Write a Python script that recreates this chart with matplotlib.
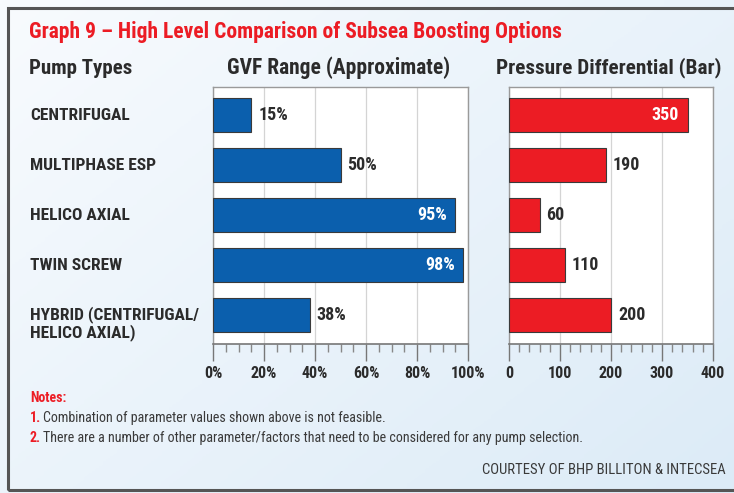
import numpy as np
import matplotlib
matplotlib.use("Agg")
import matplotlib.pyplot as plt
from matplotlib.patches import Rectangle
from matplotlib import transforms
from matplotlib.ticker import MultipleLocator, FuncFormatter

plt.rcParams['font.family'] = ['Roboto Condensed', 'DejaVu Sans']

pump_types = ["CENTRIFUGAL", "MULTIPHASE ESP", "HELICO AXIAL", "TWIN SCREW",
              "HYBRID (CENTRIFUGAL/\nHELICO AXIAL)"]
gvf = [15, 50, 95, 98, 38]
pressure = [350, 190, 60, 110, 200]
gvf_inside = [False, False, True, True, False]
pressure_inside = [True, False, False, False, False]

BLUE = "#0b5fad"
RED = "#ec1c24"
TXT = "#2b2b2b"

W, H = 734, 493
fig = plt.figure(figsize=(W / 100, H / 100), dpi=100)

# light blue gradient background
bg = fig.add_axes([0, 0, 1, 1], zorder=-10)
gx = np.linspace(0, 1, 200)
gy = np.linspace(0, 1, 200)
grad = 0.55 * gx[None, :] + 0.45 * gy[:, None]
cmap = matplotlib.colors.LinearSegmentedColormap.from_list("bgc", ["#f8fbfe", "#dcebf7"])
bg.imshow(grad, cmap=cmap, aspect="auto", extent=[0, 1, 0, 1], origin="upper")
bg.set_axis_off()
bg.set_xlim(0, 1)
bg.set_ylim(0, 1)
bg.add_patch(Rectangle((8 / W, 3 / H), 1.2, (490 - 8) / H, fill=False,
                       edgecolor="#555555", lw=2.2, transform=fig.transFigure))


def px(x, y):
    return x / W, 1 - y / H


def make_axes(left, right, top, bottom):
    return fig.add_axes([left / W, 1 - bottom / H, (right - left) / W, (bottom - top) / H])


ax1 = make_axes(213, 468, 87, 344)
ax2 = make_axes(509, 713, 87, 344)

ypos = np.arange(len(pump_types))


def style(ax, vals, inside, color, xmax, major, minor, fmt):
    ax.set_facecolor("white")
    ax.barh(ypos, vals, height=0.68, color=color, edgecolor="#3a3a3a", lw=0.8, zorder=3)
    ax.set_xlim(0, xmax)
    ax.set_ylim(4.58, -0.56)
    ax.set_yticks([])
    ax.xaxis.set_major_locator(MultipleLocator(major))
    ax.xaxis.set_minor_locator(MultipleLocator(minor))
    ax.xaxis.set_major_formatter(FuncFormatter(fmt))
    ax.tick_params(axis="x", which="major", length=12, width=1, color="#777777",
                   pad=3.5, labelsize=11.5, labelcolor=TXT)
    ax.tick_params(axis="x", which="minor", length=6, width=1, color="#888888")
    for lab in ax.get_xticklabels():
        lab.set_fontweight("bold")
    ax.grid(axis="x", which="major", color="#d4d4d4", lw=0.9, zorder=0)
    for s in ["top", "right", "left"]:
        ax.spines[s].set_color("#9a9a9a")
        ax.spines[s].set_linewidth(1.0)
    ax.spines["bottom"].set_color("#777777")
    ax.spines["bottom"].set_linewidth(1.2)
    for i, (v, ins) in enumerate(zip(vals, inside)):
        label = fmt(v, None)
        if ins:
            ax.annotate(label, (v, i), xytext=(-6, 0), textcoords="offset points",
                        ha="right", va="center", color="white", fontsize=13,
                        fontweight="bold", zorder=4)
        else:
            ax.annotate(label, (v, i), xytext=(5, 0), textcoords="offset points",
                        ha="left", va="center", color=TXT, fontsize=13,
                        fontweight="bold", zorder=4)


style(ax1, gvf, gvf_inside, BLUE, 100, 20, 5, lambda v, p: f"{v:.0f}%")
style(ax2, pressure, pressure_inside, RED, 400, 100, 20, lambda v, p: f"{v:.0f}")

# category labels
trans = transforms.blended_transform_factory(fig.transFigure, ax1.transData)
for i, name in enumerate(pump_types):
    dy = 0.17 if "\n" in name else 0
    fig.text(30 / W, i + dy, name, transform=trans, ha="left", va="center",
             fontsize=12.5, fontweight="bold", color=TXT, linespacing=1.1)

# title and headers
fig.text(*px(29, 32), "Graph 9 \u2013 High Level Comparison of Subsea Boosting Options",
         ha="left", va="center", fontsize=15.5, fontweight="bold", color=RED)
fig.text(*px(29, 68), "Pump Types", ha="left", va="center", fontsize=15,
         fontweight="bold", color=TXT)
fig.text(*px(339, 68), "GVF Range (Approximate)", ha="center", va="center", fontsize=15.5,
         fontweight="bold", color=TXT)
fig.text(*px(609, 68), "Pressure Differential (Bar)", ha="center", va="center", fontsize=15.3,
         fontweight="bold", color=TXT)

# notes
fig.text(*px(30, 398), "Notes:", ha="left", va="center", fontsize=10,
         fontweight="bold", color=RED)
notes = ["Combination of parameter values shown above is not feasible.",
         "There are a number of other parameter/factors that need to be considered for any pump selection."]
for k, note in enumerate(notes):
    y = 418 + 20 * k
    fig.text(*px(30, y), f"{k + 1}.", ha="left", va="center", fontsize=10,
             fontweight="bold", color=RED)
    fig.text(*px(43, y), note, ha="left", va="center", fontsize=10.1, color="#3a3a3a")

fig.text(*px(726, 470), "COURTESY OF BHP BILLITON & INTECSEA", ha="right", va="center",
         fontsize=10.6, color="#3a3a3a")

fig.savefig("out.png", dpi=100)
